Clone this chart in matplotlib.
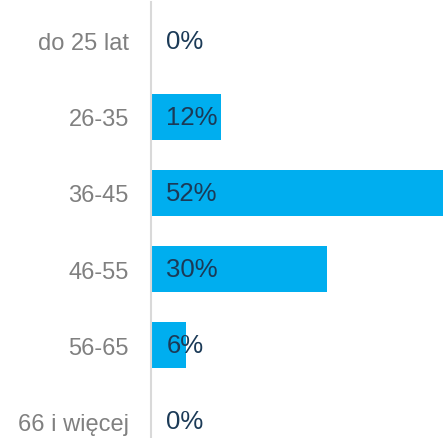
import matplotlib
matplotlib.use("Agg")
import matplotlib.pyplot as plt

categories = ["do 25 lat", "26-35", "36-45", "46-55", "56-65", "66 i więcej"]
values = [0, 12, 52, 30, 6, 0]
labels = ["0%", "12%", "52%", "30%", "6%", "0%"]

plt.rcParams['font.family'] = ['Liberation Sans', 'DejaVu Sans']

fig = plt.figure(figsize=(4.43, 4.39), dpi=100)
ax = fig.add_axes([151/443, 0, 1 - 151/443, 436/439])

y_pos = range(len(categories))
ax.barh(y_pos, values, height=0.6, color="#00AEEF", edgecolor="none")

for i, (v, lab) in enumerate(zip(values, labels)):
    ax.annotate(lab, (0, i), xytext=(11, 0), textcoords="offset points",
                va="center", ha="left", fontsize=18.5, color="#1B3A57")

ax.set_xlim(0, 49.8)
ax.set_ylim(5.22, -0.51)
ax.set_yticks(list(y_pos))
ax.set_yticklabels(categories, fontsize=17, color="#808080")
ax.tick_params(axis="y", length=0, pad=16)
ax.set_xticks([])
for side in ["top", "right", "bottom"]:
    ax.spines[side].set_visible(False)
ax.spines["left"].set_color("#D9D9D9")
ax.spines["left"].set_linewidth(1.5)

fig.savefig("out.png", dpi=100)
